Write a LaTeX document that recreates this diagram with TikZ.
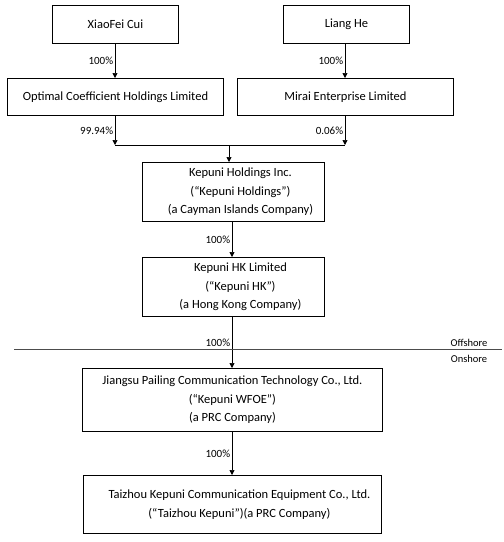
\documentclass[tikz,border=0pt]{standalone}
\usepackage{fontspec}
\setmainfont{Carlito}
\usetikzlibrary{arrows.meta}
\newcommand\myshift{\hspace*{14pt}}
\begin{document}
\begin{tikzpicture}[x=1pt,y=-1pt,
  box/.style={draw,line width=0.9pt,inner sep=0pt,anchor=north west,align=center,font=\fontsize{12.5}{18.5}\selectfont},
  arr/.style={line width=0.7pt,-{Triangle[length=5pt,width=5pt]}},
  ln/.style={line width=0.7pt},
  pct/.style={font=\fontsize{11}{12}\selectfont,anchor=east,inner sep=1.5pt},
  zone/.style={font=\fontsize{10.5}{12}\selectfont,inner sep=2pt}]
\useasboundingbox (0,0) rectangle (504,542);
\node[box,minimum width=126pt,minimum height=38pt] (xc) at (52,5) {XiaoFei Cui};
\node[box,minimum width=126pt,minimum height=38pt] (lh) at (283,5) {Liang He};
\node[box,minimum width=216pt,minimum height=37pt] (oc) at (7,78) {Optimal Coefficient Holdings Limited};
\node[box,minimum width=216pt,minimum height=37pt] (me) at (237,78) {Mirai Enterprise Limited};
\node[box,minimum width=182pt,minimum height=59pt] (kh) at (142,162) {\myshift Kepuni Holdings Inc.\\\myshift(“Kepuni Holdings”)\\\myshift(a Cayman Islands Company)};
\node[box,minimum width=182pt,minimum height=59pt] (hk) at (142,257) {\myshift Kepuni HK Limited\\\myshift(“Kepuni HK”)\\\myshift(a Hong Kong Company)};
\node[box,minimum width=300pt,minimum height=63pt] (wf) at (82,368) {Jiangsu Pailing Communication Technology Co., Ltd.\\(“Kepuni WFOE”)\\(a PRC Company)};
\node[box,minimum width=298pt,minimum height=58pt] (tz) at (83,475) {\myshift Taizhou Kepuni Communication Equipment Co., Ltd.\\\myshift(“Taizhou Kepuni”)(a PRC Company)};
\coordinate (jl) at (115,145);
\coordinate (jr) at (345,145);
\coordinate (jm) at (229,145);
\coordinate (sl) at (14,349);
\coordinate (sr) at (502,349);
\draw[arr] (xc.south -| jl) -- (oc.north -| jl) node[pct,pos=0.5] {100\%};
\draw[arr] (lh.south -| jr) -- (me.north -| jr) node[pct,pos=0.5] {100\%};
\draw[arr] (oc.south -| jl) -- (jl) node[pct,pos=0.5] {99.94\%};
\draw[arr] (me.south -| jr) -- (jr) node[pct,pos=0.5] {0.06\%};
\draw[ln] (jl) -- (jr);
\draw[arr] (jm) -- (kh.north -| jm);
\coordinate (vc) at (232,0);
\draw[arr] (kh.south -| vc) -- (hk.north -| vc) node[pct,pos=0.5] {100\%};
\draw[arr] (hk.south -| vc) -- (wf.north -| vc) node[pct,pos=0.5] {100\%};
\draw[arr] (wf.south -| vc) -- (tz.north -| vc) node[pct,pos=0.5] {100\%};
\draw[line width=0.9pt,black!70] (sl) -- (sr);
\node[zone,anchor=south] (off) at (469,349) {Offshore};
\node[zone,anchor=north] (on) at (469,353) {Onshore};
\end{tikzpicture}
\end{document}
